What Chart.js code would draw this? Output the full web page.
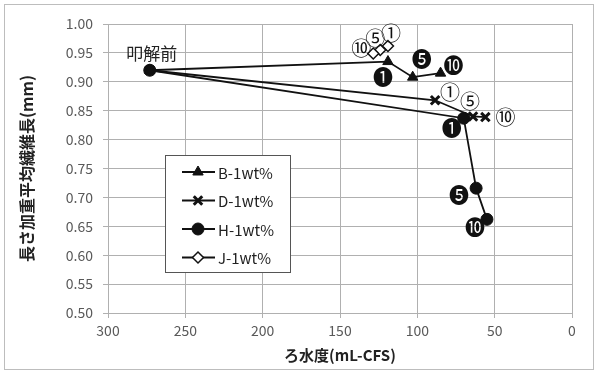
<!DOCTYPE html>
<html>
<head>
<meta charset="utf-8">
<script src="https://cdn.jsdelivr.net/npm/chart.js@4.4.1/dist/chart.umd.min.js"></script>
<style>
  html, body { margin: 0; padding: 0; background: #fff; }
  #wrap { position: relative; width: 598px; height: 374px; }
</style>
</head>
<body>
<div id="wrap"><canvas id="grafico" width="598" height="374"></canvas></div>
<script>
// dados (x = ろ水度, y = 長さ加重平均繊維長)
const inicio = { x: 273, y: 0.92 };

const serieB_x = [273, 119, 103, 85];
const serieB_y = [0.92, 0.935, 0.908, 0.915];
const serieB_rot = ["", "❶", "❺", "❿"];

const serieD_x = [273, 88.5, 64, 56];
const serieD_y = [0.92, 0.868, 0.840, 0.839];
const serieD_rot = ["", "①", "⑤", "⑩"];

const serieH_x = [273, 70, 62, 55];
const serieH_y = [0.92, 0.837, 0.716, 0.662];
const serieH_rot = ["", "❶", "❺", "❿"];

const serieJ_x = [119, 124, 128.5];
const serieJ_y = [0.962, 0.955, 0.949];
const serieJ_rot = ["①", "⑤", "⑩"];

const nomes = ["B-1wt%", "D-1wt%", "H-1wt%", "J-1wt%"];
const ticksX = [0, 50, 100, 150, 200, 250, 300];
const ticksY = [0.50, 0.55, 0.60, 0.65, 0.70, 0.75, 0.80, 0.85, 0.90, 0.95, 1.00];

// deslocamento dos rótulos (px) em relação ao ponto
const deslocB = [null, [-5, 16], [9, -18], [13, -8]];
const deslocD = [null, [15, -8], [-3, -15], [20, 0]];
const deslocH = [null, [-12, 10], [-17, 7], [-12, 8]];
const deslocJ = [[3, -13], [-5, -12], [-12, -5]];

const pontos = (xs, ys) => xs.map((x, i) => ({ x: x, y: ys[i] }));
const fonteCJK = '"Noto Sans CJK JP", "DejaVu Sans", sans-serif';

const series = [
  { label: nomes[0], data: pontos(serieB_x, serieB_y), rot: serieB_rot, desl: deslocB, estilo: "triangle", raio: 6, fundo: "#111", borda: "#111", bw: 1 },
  { label: nomes[1], data: pontos(serieD_x, serieD_y), rot: serieD_rot, desl: deslocD, estilo: "crossRot", raio: 6, fundo: "#111", borda: "#111", bw: 3 },
  { label: nomes[2], data: pontos(serieH_x, serieH_y), rot: serieH_rot, desl: deslocH, estilo: "circle", raio: 6, fundo: "#111", borda: "#111", bw: 1 },
  { label: nomes[3], data: pontos(serieJ_x, serieJ_y), rot: serieJ_rot, desl: deslocJ, estilo: "rectRot", raio: 5.5, fundo: "#fff", borda: "#111", bw: 1.5 }
];

// moldura externa
const moldura = {
  id: "moldura",
  beforeDraw(chart) {
    const c = chart.ctx;
    c.save();
    c.fillStyle = "#fff";
    c.fillRect(0, 0, chart.width, chart.height);
    c.strokeStyle = "#bdbdbd";
    c.lineWidth = 1;
    c.strokeRect(4.5, 4.5, chart.width - 9, chart.height - 9);
    c.restore();
  }
};

// rótulos ①⑤⑩ / ❶❺❿ e 叩解前
const rotulos = {
  id: "rotulos",
  afterDatasetsDraw(chart) {
    const c = chart.ctx;
    const sx = chart.scales.x, sy = chart.scales.y;
    c.save();
    c.textAlign = "center";
    c.textBaseline = "middle";
    c.fillStyle = "#111";
    series.forEach((s, di) => {
      const meta = chart.getDatasetMeta(di);
      meta.data.forEach((p, i) => {
        const t = s.rot[i];
        if (!t) return;
        const d = s.desl[i];
        c.font = "20px " + fonteCJK;
        c.fillText(t, p.x + d[0], p.y + d[1]);
      });
    });
    c.font = "17px " + fonteCJK;
    c.fillStyle = "#222";
    c.fillText("叩解前", sx.getPixelForValue(inicio.x) + 2, sy.getPixelForValue(inicio.y) - 17);
    c.restore();
  }
};

// legenda dentro da área do gráfico
const legenda = {
  id: "legenda",
  afterDraw(chart) {
    const c = chart.ctx;
    const x0 = 165, y0 = 155, w = 125, h = 117;
    c.save();
    c.fillStyle = "#fff";
    c.fillRect(x0, y0, w, h);
    c.strokeStyle = "#555";
    c.lineWidth = 1;
    c.strokeRect(x0 + 0.5, y0 + 0.5, w, h);
    series.forEach((s, i) => {
      const y = y0 + 17 + i * 28.5;
      c.strokeStyle = "#111";
      c.lineWidth = 2;
      c.beginPath();
      c.moveTo(x0 + 17, y);
      c.lineTo(x0 + 50, y);
      c.stroke();
      c.fillStyle = s.fundo;
      c.strokeStyle = s.borda;
      c.lineWidth = s.bw;
      Chart.helpers.drawPoint(c, { pointStyle: s.estilo, radius: s.raio, borderWidth: s.bw }, x0 + 33, y);
      c.fillStyle = "#222";
      c.font = "15px " + fonteCJK;
      c.textAlign = "left";
      c.textBaseline = "middle";
      c.fillText(s.label, x0 + 53, y + 1);
    });
    c.restore();
  }
};

new Chart(document.getElementById("grafico"), {
  type: "scatter",
  data: {
    datasets: series.map(s => ({
      label: s.label,
      data: s.data,
      showLine: true,
      borderColor: "#111",
      borderWidth: 1.8,
      pointStyle: s.estilo,
      pointRadius: s.raio,
      pointBackgroundColor: s.fundo,
      pointBorderColor: s.borda,
      pointBorderWidth: s.bw
    }))
  },
  options: {
    responsive: false,
    animation: false,
    events: [],
    layout: { padding: { left: 10, top: 24, right: 26, bottom: 8 } },
    plugins: { legend: { display: false }, tooltip: { enabled: false } },
    scales: {
      x: {
        type: "linear",
        reverse: true,
        min: 0,
        max: 300,
        afterBuildTicks: (s) => { s.ticks = ticksX.map(v => ({ value: v })); },
        afterFit: (s) => { s.height = 374 - 313 - 8; },
        grid: { color: "#b0b0b0", tickLength: 5 },
        border: { color: "#b0b0b0" },
        ticks: { color: "#595959", font: { size: 14, family: fonteCJK }, padding: 4 },
        title: {
          display: true,
          text: "ろ水度(mL-CFS)",
          color: "#222",
          font: { size: 15, weight: "bold", family: fonteCJK },
          padding: { top: 0, bottom: 2 }
        }
      },
      y: {
        type: "linear",
        min: 0.5,
        max: 1.0,
        afterBuildTicks: (s) => { s.ticks = ticksY.map(v => ({ value: v })); },
        afterFit: (s) => { s.width = 108 - 10; },
        grid: { color: "#b0b0b0", tickLength: 5 },
        border: { color: "#b0b0b0" },
        ticks: {
          color: "#595959",
          font: { size: 14, family: fonteCJK },
          padding: 10,
          callback: (v) => Number(v).toFixed(2)
        },
        title: {
          display: true,
          text: "長さ加重平均繊維長(mm)",
          color: "#222",
          font: { size: 16, weight: "bold", family: fonteCJK },
          padding: { top: 7, bottom: 0 }
        }
      }
    }
  },
  plugins: [moldura, rotulos, legenda]
});
</script>
</body>
</html>
